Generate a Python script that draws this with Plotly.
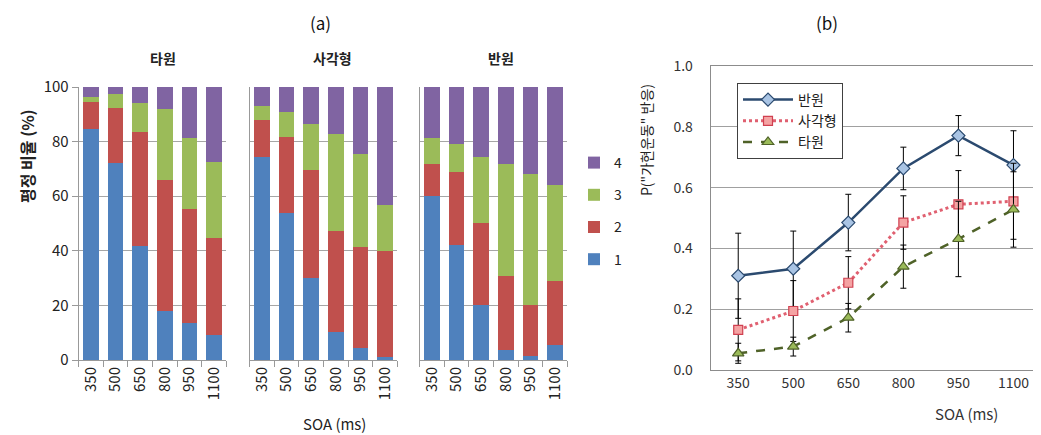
import plotly.graph_objects as go

# the page has an 8px body margin, so the figure is 8px smaller than the window
OFF = 8
W, H = 1041 - OFF, 435 - OFF
FONT = "Noto Sans CJK KR"

soa = ["350", "500", "650", "800", "950", "1100"]
shapes_a = ["타원", "사각형", "반원"]
rating_labels = ["1", "2", "3", "4"]
rating_colors = ["#4f81bd", "#c0504d", "#9bbb59", "#8064a2"]

# stacked percentages (rating 1..4) per shape, per SOA
ellipse_r1 = [84.5, 72.2, 41.6, 18.0, 13.5, 9.2]
ellipse_r2 = [10.0, 20.2, 42.0, 47.9, 41.9, 35.5]
ellipse_r3 = [1.8, 5.2, 10.5, 25.9, 26.0, 27.8]
ellipse_r4 = [3.7, 2.4, 5.9, 8.2, 18.6, 27.5]

square_r1 = [74.2, 54.0, 30.0, 10.2, 4.5, 1.2]
square_r2 = [13.8, 27.6, 39.6, 37.0, 36.8, 38.7]
square_r3 = [5.0, 9.2, 16.9, 35.6, 34.2, 16.8]
square_r4 = [7.0, 9.2, 13.5, 17.2, 24.5, 43.3]

semi_r1 = [60.1, 42.3, 20.2, 3.7, 1.5, 5.5]
semi_r2 = [11.7, 26.4, 30.1, 27.0, 18.7, 23.3]
semi_r3 = [9.4, 10.4, 23.9, 41.1, 47.9, 35.2]
semi_r4 = [18.8, 20.9, 25.8, 28.2, 31.9, 36.0]

# panel (b): P("가현운동" 반응)
series_b = ["반원", "사각형", "타원"]
semi_p = [0.310, 0.333, 0.485, 0.663, 0.771, 0.674]
semi_err = [0.140, 0.124, 0.093, 0.070, 0.066, 0.113]
square_p = [0.132, 0.194, 0.287, 0.485, 0.545, 0.555]
square_err = [0.102, 0.100, 0.086, 0.088, 0.111, 0.125]
ellipse_p = [0.055, 0.077, 0.172, 0.340, 0.431, 0.528]
ellipse_err = [0.033, 0.031, 0.047, 0.071, 0.124, 0.124]

stack_data = [
    [ellipse_r1, ellipse_r2, ellipse_r3, ellipse_r4],
    [square_r1, square_r2, square_r3, square_r4],
    [semi_r1, semi_r2, semi_r3, semi_r4],
]

fig = go.Figure()

axis_suffix = ["", "2", "3"]
for fi, series in enumerate(stack_data):
    for ri, vals in enumerate(series):
        fig.add_trace(go.Bar(
            x=soa, y=vals, name=rating_labels[ri],
            marker=dict(color=rating_colors[ri], line=dict(width=0)),
            xaxis="x" + axis_suffix[fi], yaxis="y" + axis_suffix[fi],
            legendgroup="r" + rating_labels[ri], showlegend=(fi == 0),
            legendrank=10 - ri,
            legend="legend",
        ))

line_styles = [
    dict(color="#2b4a6f", dash="solid", width=2.5),
    dict(color="#e06070", dash="dot", width=3),
    dict(color="#4f6228", dash="dash", width=2.5),
]
marker_styles = [
    dict(symbol="diamond", size=10, color="#a9c4e4", line=dict(color="#2b4a6f", width=1.2)),
    dict(symbol="square", size=9, color="#f4a3a3", line=dict(color="#d04050", width=1.2)),
    dict(symbol="triangle-up", size=10, color="#9bbb59", line=dict(color="#4f6228", width=1.2)),
]
for name, vals, err, ls, ms in zip(series_b, [semi_p, square_p, ellipse_p],
                                    [semi_err, square_err, ellipse_err],
                                    line_styles, marker_styles):
    fig.add_trace(go.Scatter(
        x=soa, y=vals, name=name, mode="lines+markers",
        line=ls, marker=ms,
        error_y=dict(type="data", array=err, color="black", thickness=1, width=3),
        xaxis="x4", yaxis="y4", legend="legend2",
    ))

def px_x(p):
    return (p - OFF) / W

def px_y(p):
    return 1 - (p - OFF) / H

ydom_a = [px_y(360), px_y(87)]
facet_dom = [[78.7, 226.3], [249.7, 397.3], [419.7, 567.3]]

layout = dict(
    width=W, height=H,
    margin=dict(l=0, r=0, t=0, b=0, autoexpand=False),
    paper_bgcolor="white", plot_bgcolor="rgba(0,0,0,0)",
    barmode="stack", bargap=0.36,
    font=dict(family=FONT, color="#222222", size=14),
    legend=dict(
        x=px_x(574), y=px_y(147), xanchor="left", yanchor="top",
        traceorder="grouped", tracegroupgap=11,
        font=dict(size=14, family=FONT), itemwidth=30,
        bgcolor="rgba(0,0,0,0)",
    ),
    legend2=dict(
        x=px_x(737), y=px_y(83), xanchor="left", yanchor="top",
        bordercolor="#404040", borderwidth=1, bgcolor="white",
        font=dict(size=14, family=FONT), traceorder="normal",
        itemwidth=50, tracegroupgap=0,
    ),
)

for fi in range(3):
    s = axis_suffix[fi]
    layout["xaxis" + s] = dict(
        domain=[px_x(facet_dom[fi][0]), px_x(facet_dom[fi][1])],
        anchor="y" + s, type="category",
        tickangle=-90, tickfont=dict(size=15, family=FONT),
        ticks="outside", tickson="boundaries", ticklen=6, tickcolor="#999999",
        showline=True, linecolor="#999999", linewidth=1,
        showgrid=False,
    )
    layout["yaxis" + s] = dict(
        domain=ydom_a, anchor="x" + s, range=[0, 100],
        tickvals=[0, 20, 40, 60, 80, 100],
        showticklabels=(fi == 0), tickfont=dict(size=15, family=FONT),
        ticks="outside" if fi == 0 else "", ticklen=6, tickcolor="#999999",
        showline=True, linecolor="#999999", linewidth=1,
        showgrid=True, gridcolor="#a6a6a6", gridwidth=1,
        zeroline=False,
    )

layout["xaxis4"] = dict(
    domain=[px_x(710.7), 1.0], anchor="y4", type="category",
    range=[-0.5, 5.5], tickfont=dict(size=14, color="#333333"),
    ticks="", showline=True, linecolor="#8c8c8c", linewidth=1, mirror=True,
    showgrid=False,
)
layout["yaxis4"] = dict(
    domain=[px_y(370), px_y(66)], anchor="x4", range=[0, 1.0],
    tickvals=[0, 0.2, 0.4, 0.6, 0.8, 1.0], tickformat=".1f",
    tickfont=dict(size=14, color="#333333"), ticks="", ticklabelstandoff=14,
    showline=True, linecolor="#8c8c8c", linewidth=1, mirror=True,
    showgrid=True, gridcolor="#a0a0a0", gridwidth=1, zeroline=False,
)

annotations = [
    dict(text="(a)", x=px_x(320), y=px_y(22), font=dict(size=17, color="#111111")),
    dict(text="(b)", x=px_x(827), y=px_y(22), font=dict(size=17, color="#111111")),
    dict(text="<b>타원</b>", x=px_x(163), y=px_y(58), font=dict(size=14)),
    dict(text="<b>사각형</b>", x=px_x(332), y=px_y(58), font=dict(size=14)),
    dict(text="<b>반원</b>", x=px_x(501), y=px_y(58), font=dict(size=14)),
    dict(text="<b>평정 비율 (%)</b>", x=px_x(27), y=px_y(156), textangle=-90, font=dict(size=16)),
    dict(text="SOA (ms)", x=px_x(334), y=px_y(423), font=dict(size=15)),
    dict(text="SOA (ms)", x=px_x(966), y=px_y(413), font=dict(size=15, color="#333333")),
    dict(text="P(\"가현운동\" 반응)", x=px_x(646), y=px_y(140), textangle=-90, font=dict(size=14)),
]
for a in annotations:
    a.update(xref="paper", yref="paper", showarrow=False, xanchor="center", yanchor="middle")
layout["annotations"] = annotations

fig.update_layout(**layout)
fig.write_html("out.html")
